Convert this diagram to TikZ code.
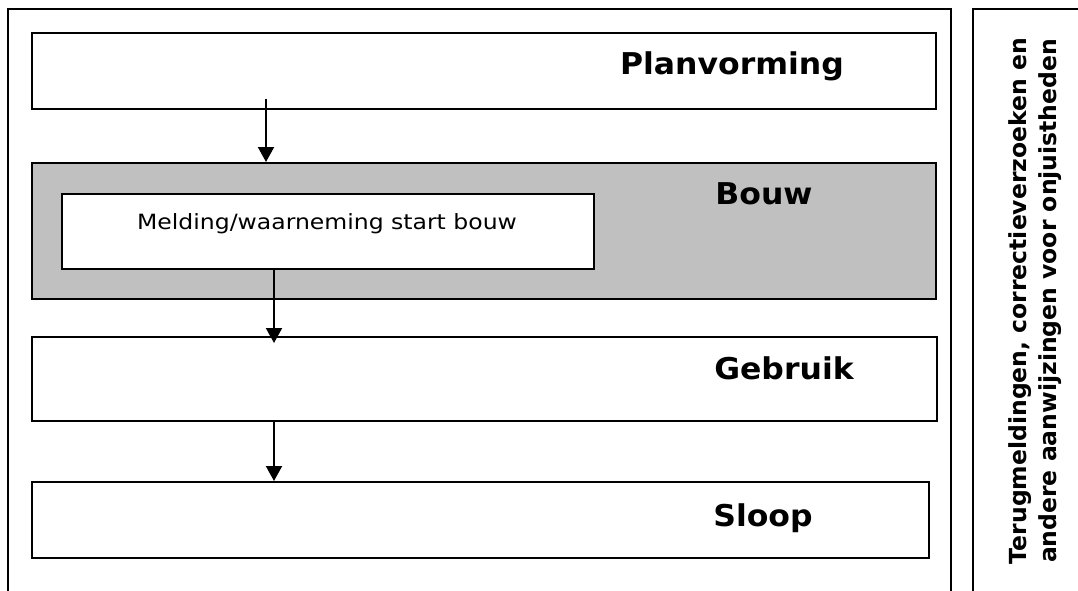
\documentclass[tikz,border=0pt]{standalone}
\usepackage{fontspec}
\setmainfont{DejaVu Sans}
\newfontfamily\fasefont[FakeStretch=1.05]{DejaVu Sans}
\newfontfamily\meldfont[FakeStretch=1.12]{DejaVu Sans}
\usepackage{xcolor}
\usetikzlibrary{arrows.meta}
\definecolor{bouwgrijs}{RGB}{192,192,192}

\tikzset{
	fase/.style={draw, line width=2pt, inner sep=0pt, anchor=north west},
	fasenaam/.style={anchor=base, font=\fasefont\fontsize{30}{34}\selectfont\bfseries},
	pijl/.style={line width=2pt, -{Triangle[width=16pt,length=15pt]}}
}

\begin{document}
\begin{tikzpicture}[x=1pt, y=-1pt]
	\useasboundingbox (0,0) rectangle (1078,590);
	\draw[line width=1.8pt] (8,592) -- (8,9) -- (951,9) -- (951,592);
	\draw[line width=1.8pt] (973,592) -- (973,9) -- (1082,9);
	
	\node[fase, minimum width=904pt, minimum height=76pt] (plan) at (31,32) {};
	\node[fase, fill=bouwgrijs, minimum width=904pt, minimum height=136pt] (bouw) at (31,162) {};
	\node[fase, fill=white, minimum width=532pt, minimum height=75pt] (melding) at (61,193) {};
	\node[fase, minimum width=905pt, minimum height=84pt] (gebruik) at (31,336) {};
	\node[fase, minimum width=897pt, minimum height=76pt] (sloop) at (31,481) {};
	
	\node[fasenaam] (tplan) at (732,74) {Planvorming};
	\node[fasenaam] (tbouw) at (764,204) {Bouw};
	\node[fasenaam] (tgebruik) at (784,379) {Gebruik};
	\node[fasenaam] (tsloop) at (763,526) {Sloop};
	\node[anchor=base, font=\meldfont\fontsize{21}{24}\selectfont] (tmelding) at (327,229) {Melding/waarneming start bouw};
	
	\node[rotate=90, align=center, inner sep=0pt, font=\fontsize{23.5}{30}\selectfont\bfseries] (terug) at (1035,301) {Terugmeldingen, correctieverzoeken en\\andere aanwijzingen voor onjuistheden};
	
	\coordinate (p1) at (266,99);
	\coordinate (p2) at (274,268);
	\coordinate (q2) at (274,343);
	\draw[pijl] (p1) -- (p1 |- bouw.north);
	\draw[pijl] (p2) -- (q2);
	\draw[pijl] (gebruik.south -| p2) -- (sloop.north -| p2);
	
\end{tikzpicture}
\end{document}
